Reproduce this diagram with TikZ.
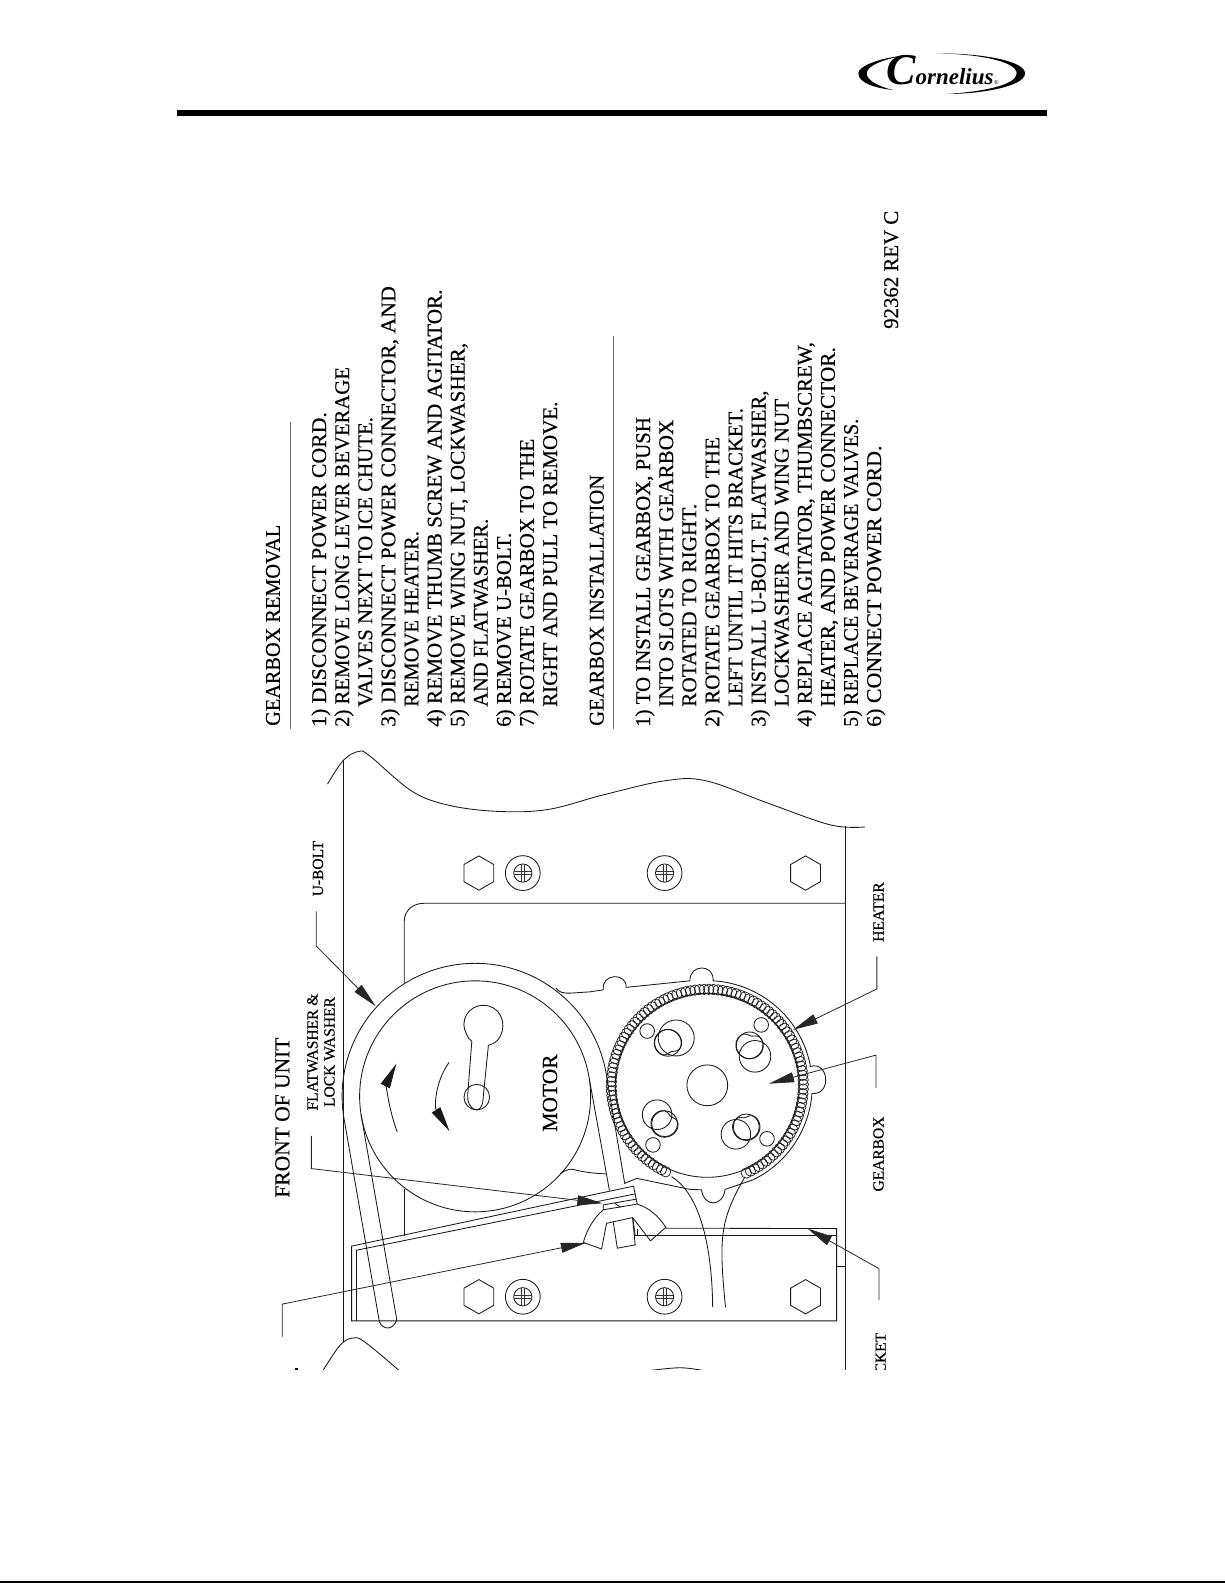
\documentclass[tikz,border=0pt]{standalone}
\usepackage{fontspec}
\usepackage{graphicx}
\setmainfont{Liberation Serif}
\newfontfamily\semibold{Liberation Serif}[FakeBold=0.35]
\newcommand{\fitw}[2]{\resizebox{#1pt}{\height}{#2}}
\usetikzlibrary{arrows.meta,calc}
\tikzset{
  body/.style={rotate=90,anchor=base west,inner sep=0pt,font=\semibold\fontsize{21}{24}\selectfont},
  small/.style={rotate=90,anchor=base,inner sep=0pt,font=\semibold\fontsize{15.5}{17}\selectfont,align=center},
  large/.style={rotate=90,anchor=base,inner sep=0pt,font=\semibold\fontsize{21.5}{24}\selectfont},
  part/.style={line width=0.85pt,black!90},
  leader/.style={line width=0.8pt,black!85,-{Triangle[length=25pt,width=10pt]}},
  rulegray/.style={line width=0.8pt,black!60}
}
\begin{document}
\begin{tikzpicture}[x=1pt,y=-1pt]
\useasboundingbox (0,0) rectangle (1225,1583);
\fill (0,1581) rectangle (1225,1583);
% header
\fill (177,110) rectangle (1047,116);
\begin{scope}[x=0.33333pt,y=-0.33333pt,xshift=820pt,yshift=-30pt]
  \fill (262,75) .. controls (170,85) and (115,110) .. (115,130)
        .. controls (115,160) and (170,175) .. (220,180)
        .. controls (175,170) and (140,150) .. (140,130)
        .. controls (140,105) and (200,85) .. (262,75) -- cycle;
  \fill (350,70) .. controls (500,70) and (615,95) .. (615,130)
        .. controls (615,170) and (480,192) .. (380,192)
        .. controls (490,185) and (590,165) .. (590,130)
        .. controls (590,95) and (480,72) .. (350,70) -- cycle;
\end{scope}
\node[anchor=base west,inner sep=0pt,font=\itshape\bfseries] (logo) at (886,84) {{\fontsize{44}{44}\selectfont C}{\fontsize{23}{23}\selectfont ornelius}\kern0.5pt{\fontsize{6}{6}\selectfont\mdseries\upshape ®}};
% text rules
\coordinate (ra) at (290,422); \coordinate (rb) at (290,729);
\coordinate (rc) at (613.6,336); \coordinate (rd) at (613.6,729);
\draw[rulegray] (ra) -- (rb);
\draw[rulegray] (rc) -- (rd);
% removal text
\node[body] (t0) at (279.8,726) {\fitw{201}{GEARBOX REMOVAL}};
\node[body] (r1) at (326,727) {\fitw{314.7}{1) DISCONNECT POWER CORD.}};
\node[body] (r2) at (349.1,727) {\fitw{359.7}{2) REMOVE LONG LEVER BEVERAGE}};
\node[body] (r3) at (372.2,707) {\fitw{289.7}{VALVES NEXT TO ICE CHUTE.}};
\node[body] (r4) at (395.3,727) {\fitw{440.7}{3) DISCONNECT POWER CONNECTOR, AND}};
\node[body] (r5) at (418.4,707) {\fitw{175.7}{REMOVE HEATER.}};
\node[body] (r6) at (441.5,727) {\fitw{437.3}{4) REMOVE THUMB SCREW AND AGITATOR.}};
\node[body] (r7) at (464.6,727) {\fitw{384}{5) REMOVE WING NUT, LOCKWASHER,}};
\node[body] (r8) at (487.7,707) {\fitw{188}{AND FLATWASHER.}};
\node[body] (r9) at (510.8,727) {\fitw{194}{6) REMOVE U-BOLT.}};
\node[body] (r10) at (533.9,727) {\fitw{288}{7) ROTATE GEARBOX TO THE}};
\node[body] (r11) at (557,707) {\fitw{305.3}{RIGHT AND PULL TO REMOVE.}};
% installation text
\node[body] (u0) at (603.6,726) {\fitw{251}{GEARBOX INSTALLATION}};
\node[body] (i1) at (650,727) {\fitw{309.7}{1) TO INSTALL GEARBOX, PUSH}};
\node[body] (i2) at (673.1,707) {\fitw{287}{INTO SLOTS WITH GEARBOX}};
\node[body] (i3) at (696.2,707) {\fitw{203}{ROTATED TO RIGHT.}};
\node[body] (i4) at (719.3,727) {\fitw{289.7}{2) ROTATE GEARBOX TO THE}};
\node[body] (i5) at (742.4,707) {\fitw{298.7}{LEFT UNTIL IT HITS BRACKET.}};
\node[body] (i6) at (765.5,727) {\fitw{336.3}{3) INSTALL U-BOLT, FLATWASHER,}};
\node[body] (i7) at (788.6,707) {\fitw{308}{LOCKWASHER AND WING NUT}};
\node[body] (i8) at (811.7,727) {\fitw{384.7}{4) REPLACE AGITATOR, THUMBSCREW,}};
\node[body] (i9) at (834.8,707) {\fitw{359.7}{HEATER, AND POWER CONNECTOR.}};
\node[body] (i10) at (857.9,727) {\fitw{308}{5) REPLACE BEVERAGE VALVES.}};
\node[body] (i11) at (881,727) {\fitw{281.3}{6) CONNECT POWER CORD.}};
\node[body] (rev) at (898,329) {\fitw{118}{92362 REV C}};
% diagram, clipped at its lower edge
\begin{scope}
\clip (0,0) rectangle (1225,1369.5);
\node[small] (lub) at (323,868.6) {U-BOLT};
\node[small] (lfw) at (334.5,1052) {FLATWASHER \&\\LOCK WASHER};
\node[large] (lfr) at (289.4,1117.6) {FRONT OF UNIT};
\node[large] (lmo) at (557,1093) {MOTOR};
\node[small] (lhe) at (883.5,912) {HEATER};
\node[small] (lge) at (883.5,1154) {GEARBOX};
\node[rotate=90,anchor=base west,inner sep=0pt,font=\semibold\fontsize{15.5}{17.5}\selectfont] (lbr) at (885.7,1373.5) {CKET};
\fill (294.5,1367.5) rectangle (297.5,1370);
\begin{scope}[x=0.41459pt,y=-0.40816pt,xshift=250pt,yshift=-740pt]
\coordinate (m) at (543,873);
\coordinate (g) at (1103,846);
% plate
\draw[part] (225,50) -- (225,1475);
\draw[part] (1437,210) -- (1437,1560);
\draw[part] plot[smooth,tension=.6] coordinates {(187,108) (225,50) (262,28) (290,40) (390,125) (480,160) (600,175) (720,170) (850,135) (1000,100) (1100,100) (1250,155) (1400,208) (1483,213)};
\draw[part] plot[smooth,tension=.6] coordinates {(176,1545) (217,1483) (248,1465) (277,1475) (360,1545)};
\draw[part] plot[smooth,tension=.6] coordinates {(955,1546) (1037,1538) (1100,1546)};
% hex bolts and screws
\foreach \hx/\hy in {552/326,1340/326,552/1364,1340/1364}
  \draw[part,shift={(\hx,\hy)}] (0,-42) -- (36,-21) -- (36,21) -- (0,42) -- (-36,21) -- (-36,-21) -- cycle;
\foreach \sx/\sy in {658/326,1000/326,658/1364,1000/1364}{
  \draw[part,shift={(\sx,\sy)}] (0,0) circle (17.4pt) (0,0) circle (9.1pt);
  \draw[line width=0.6pt,black!80,shift={(\sx,\sy)}] (-21,-4) -- (21,-4) (-21,4) -- (21,4) (-4,-21) -- (-4,21) (4,-21) -- (4,21);
}
% panel
\draw[part] (372,595) -- (372,445) .. controls (372,418) and (392,400) .. (420,400) -- (1437,400);
\draw[part] (372,1100) -- (372,1215);
% motor
\draw[part] (m) circle (115.5pt);
\draw[part] (904,1088) -- ($(m)+(9:133pt)$) arc[start angle=9,end angle=189,radius=133pt] -- (312,1425)
   .. controls (320,1445) and (345,1448) .. (354,1420) -- ($(m)+(189:115.5pt)$);
\draw[part] ($(m)+(9:115.5pt)$) -- (867,1104);
% keyhole
\draw[part] (547,875) circle (12.8pt);
\draw[part] (535,738) -- (525,870) .. controls (522,905) and (560,925) .. (562,880) -- (575,748) .. controls (585,745) and (597,740) .. (603,727)
   .. controls (622,690) and (600,650) .. (563,650) .. controls (525,650) and (505,690) .. (522,720) .. controls (526,730) and (530,735) .. (535,738);
% motor arrows
\coordinate (a1s) at (355,960); \coordinate (a1e) at (353,793);
\coordinate (a2s) at (480,790); \coordinate (a2e) at (481,958);
\draw[part,-{Triangle[length=25pt,width=10pt]}] (a1s) .. controls (330,890) and (330,840) .. (a1e);
\draw[part,-{Triangle[length=25pt,width=10pt]}] (a2s) .. controls (445,840) and (445,900) .. (a2e);
% gearbox housing
\draw[part] (738,608) .. controls (745,618) and (755,621) .. (775,620) -- (820,617) -- (852,612)
   .. controls (848,570) and (910,570) .. (907,606) -- (1061,590)
   .. controls (1060,548) and (1120,548) .. (1117,590)
   arc[start angle=86.8,end angle=10.5,radius=105pt]
   .. controls (1395,785) and (1405,870) .. ($(g)+(-4.5:105pt)$)
   arc[start angle=-4.5,end angle=-64,radius=105pt]
   -- (1146,1101) .. controls (1140,1145) and (1095,1145) .. (1089,1102)
   -- (1061,1101) -- (933,1074) -- (904,1086);
\draw[part] (748,1062) .. controls (760,1055) and (770,1050) .. (780,1052) .. controls (800,1058) and (830,1062) .. (858,1063);
% heater coil
\foreach \t in {-66,-63.23,...,247}
  \draw[line width=0.7pt,black!90] ($(g)+(\t:96pt)$) circle (5.2pt);
\draw[part] (g) circle (92pt);
\draw[part] (g) circle (20.4pt);
% agitator holes
\foreach \ax/\ay/\ar/\bx/\by/\br/\cx/\cy/\na in {
   1028/730/18/1008/742/13.3/958/713/70,
   1218/775/15.8/1205/748/13.3/1233/698/-80,
   982/918/14.8/1000/940/13/972/992/-50,
   1172/966/14.8/1197/948/13/1247/977/-100}{
  \draw[part] (\ax,\ay) circle (\ar pt);
  \draw[part] (\bx,\by) circle (\br pt);
  \draw[part] (\cx,\cy) circle (7.3pt);
  \draw[part] plot[variable=\t,domain={\na-180}:{\na+180},samples=49,smooth] ({\bx+(33-10*exp(-((\t-\na)/30)^2))*cos(\t)},{\by+(33-10*exp(-((\t-\na)/30)^2))*sin(\t)}) -- cycle;
}
% wires
\draw[part] (1017,1070) .. controls (1077,1107) and (1114,1217) .. (1116,1390);
\draw[part] (1194,1070) .. controls (1134,1176) and (1130,1217) .. (1147,1390);
% bracket
\draw[part] (925,1093) -- (245,1240) -- (245,1423) -- (1415,1423) -- (1415,1197) -- (1003,1196);
\draw[part] (929,1112) -- (257,1250) -- (257,1423);
\draw[part] (926,1213) -- (1415,1213);
\draw[part] (934,1213) -- (934,1199);
\draw[part] (1415,1290) -- (1437,1290);
% washers
\draw[part] (925,1093) -- (934,1137) -- (852,1151) -- (852,1139) -- (931,1125);
\draw[part] (880,1135) -- (894,1145);
% wing nut and stud
\draw[part] (852,1151) .. controls (830,1170) and (812,1200) .. (804,1231) -- (848,1247) -- (860,1184) -- (923,1170) -- (929,1213);
\draw[part] (876,1180) -- (886,1245) -- (929,1237) -- (923,1172);
\draw[part] (934,1137) .. controls (960,1145) and (985,1165) .. (1003,1194) -- (966,1227) -- (923,1170);
% leaders
\coordinate (q1) at (160,420); \coordinate (q2) at (160,505); \coordinate (q3) at (303,652);
\draw[leader] (q1) -- (q2) -- (q3);
\coordinate (w1) at (148,970); \coordinate (w2) at (148,1050); \coordinate (w3) at (850,1135);
\draw[leader] (w1) -- (w2) -- (w3);
\coordinate (n1) at (78,1462); \coordinate (n2) at (78,1382); \coordinate (n3) at (810,1232);
\draw[leader] (n1) -- (n2) -- (n3);
\coordinate (b1) at (1517,1372); \coordinate (b2) at (1517,1295); \coordinate (b3) at (1345,1197);
\draw[leader] (b1) -- (b2) -- (b3);
\coordinate (h1) at (1512,530); \coordinate (h2) at (1512,610); \coordinate (h3) at (1310,710);
\draw[leader] (h1) -- (h2) -- (h3);
\coordinate (e1) at (1510,852); \coordinate (e2) at (1510,772); \coordinate (e3) at (1252,842);
\draw[leader] (e1) -- (e2) -- (e3);
\end{scope}
\end{scope}
\end{tikzpicture}
\end{document}
